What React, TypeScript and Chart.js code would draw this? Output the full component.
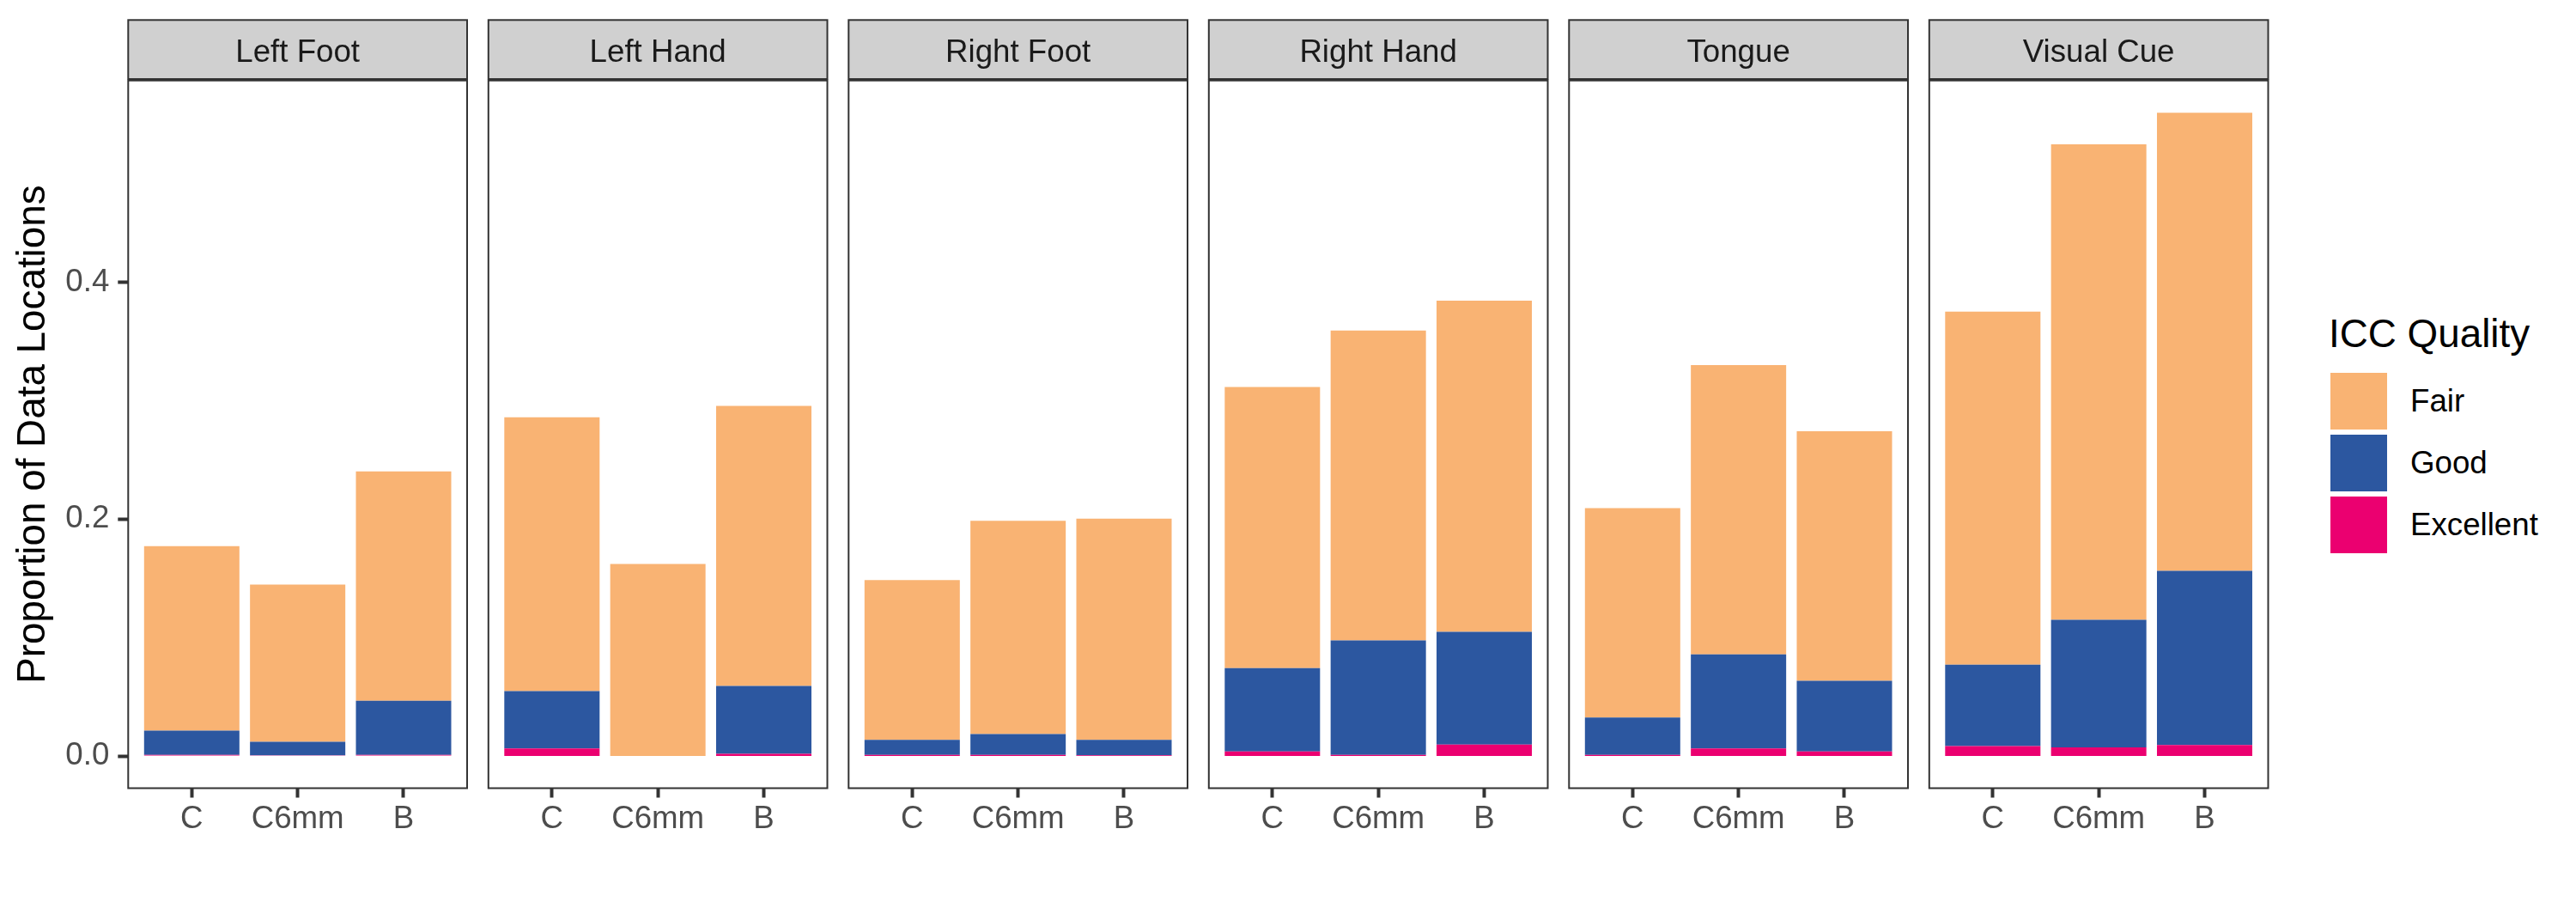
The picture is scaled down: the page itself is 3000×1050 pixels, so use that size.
import React, { useEffect, useRef } from "react";
import { Chart, registerables } from "chart.js";

Chart.register(...registerables);

// ---------------- data ----------------
const PANELS = ["Left Foot", "Left Hand", "Right Foot", "Right Hand", "Tongue", "Visual Cue"];
const CATEGORIES = ["C", "C6mm", "B"];
const QUALITY_LEVELS = ["Fair", "Good", "Excellent"];

// segment heights (proportion of data locations) per panel, per category [C, C6mm, B]
const FAIR = [
  [0.1558, 0.1326, 0.1937],
  [0.2311, 0.1622, 0.2365],
  [0.135, 0.1801, 0.1869],
  [0.2374, 0.2617, 0.2797],
  [0.1768, 0.2443, 0.2107],
  [0.2981, 0.4015, 0.387],
];
const GOOD = [
  [0.0204, 0.0116, 0.0456],
  [0.0486, 0.0, 0.0573],
  [0.0126, 0.0175, 0.0131],
  [0.0704, 0.0966, 0.0952],
  [0.0315, 0.0796, 0.0597],
  [0.0689, 0.1078, 0.1471],
];
const EXCELLENT = [
  [0.001, 0.0005, 0.001],
  [0.0063, 0.0, 0.0019],
  [0.001, 0.001, 0.0005],
  [0.0039, 0.001, 0.0097],
  [0.001, 0.0063, 0.0039],
  [0.0083, 0.0073, 0.0092],
];

const Y_TICKS = [0, 0.2, 0.4];
const Y_TICK_LABELS = ["0.0", "0.2", "0.4"];
const Y_TITLE = "Proportion of Data Locations";
const LEGEND_TITLE = "ICC Quality";

// ---------------- styles ----------------
const COLORS: Record<string, string> = {
  Fair: "#F9B373",
  Good: "#2C57A0",
  Excellent: "#EB0070",
};
const FONT = '"Liberation Sans", Arial, Helvetica, sans-serif';
const AXIS_TEXT_SIZE = 36.7;
const TITLE_SIZE = 45.8;

const PANEL_LEFT0 = 149.3;
const PANEL_PITCH = 419.5;
const PANEL_W = 394.7;
const PANEL_TOP = 93.7;
const PANEL_BOTTOM = 917.5;
const STRIP_TOP = 23.3;
const STRIP_BOTTOM = 92;
const STRIP_TEXT_Y = 61.5;
const CANVAS_H = 1050;
const X_AXIS_H = 80;

const panelDecor = {
  id: "panelDecor",
  afterDraw(chart: any, _args: any, opts: any) {
    const { ctx, chartArea } = chart;
    const { left, right, top, bottom } = chartArea;
    ctx.save();
    ctx.fillStyle = "#D0D0D0";
    ctx.fillRect(left, STRIP_TOP, right - left, STRIP_BOTTOM - STRIP_TOP);
    ctx.strokeStyle = "#333333";
    ctx.lineWidth = 2;
    ctx.strokeRect(left, STRIP_TOP, right - left, STRIP_BOTTOM - STRIP_TOP);
    ctx.fillStyle = "#1A1A1A";
    ctx.font = `${AXIS_TEXT_SIZE}px ${FONT}`;
    ctx.textAlign = "center";
    ctx.textBaseline = "middle";
    ctx.fillText(opts.title, (left + right) / 2, STRIP_TEXT_Y);
    ctx.strokeRect(left, top, right - left, bottom - top);
    ctx.restore();
  },
};

function Panel({ index }: { index: number }) {
  const ref = useRef<HTMLCanvasElement>(null);
  const first = index === 0;
  const L = PANEL_LEFT0 + index * PANEL_PITCH;
  const canvasLeft = first ? 0 : Math.floor(L - 12);
  const canvasRight = Math.ceil(L + PANEL_W + 12);
  const width = canvasRight - canvasLeft;
  const padLeft = first ? 0 : L - canvasLeft;
  const padRight = canvasRight - (L + PANEL_W);

  useEffect(() => {
    if (!ref.current) return;
    let maxTotal = 0;
    for (let p = 0; p < PANELS.length; p++) {
      for (let j = 0; j < CATEGORIES.length; j++) {
        maxTotal = Math.max(maxTotal, FAIR[p][j] + GOOD[p][j] + EXCELLENT[p][j]);
      }
    }
    const yMin = -0.05 * maxTotal;
    const yMax = 1.05 * maxTotal;
    const series: Record<string, number[][]> = { Fair: FAIR, Good: GOOD, Excellent: EXCELLENT };
    const stackOrder = [...QUALITY_LEVELS].reverse();
    const datasets = stackOrder.map((q) => ({
      label: q,
      data: CATEGORIES.map((_, j) => ({ x: j + 1, y: series[q][index][j] })),
      backgroundColor: COLORS[q],
      borderWidth: 0,
      barPercentage: 0.9,
      categoryPercentage: 1.0,
    }));

    const chart = new Chart(ref.current, {
      type: "bar",
      data: { datasets } as any,
      plugins: [panelDecor],
      options: {
        animation: false,
        responsive: false,
        devicePixelRatio: 1,
        events: [],
        layout: {
          padding: {
            top: PANEL_TOP,
            left: padLeft,
            right: padRight,
            bottom: CANVAS_H - PANEL_BOTTOM - X_AXIS_H,
          },
        },
        plugins: {
          legend: { display: false },
          tooltip: { enabled: false },
          title: { display: false },
          panelDecor: { title: PANELS[index] },
        } as any,
        scales: {
          x: {
            type: "linear",
            min: 0.4,
            max: 3.6,
            bounds: "data",
            stacked: true,
            offset: false,
            border: { display: false },
            grid: {
              display: true,
              offset: false,
              drawOnChartArea: false,
              drawTicks: true,
              tickLength: 11,
              tickWidth: 4,
              tickColor: "#333333",
              color: "#333333",
            },
            afterBuildTicks: (scale: any) => {
              scale.ticks = CATEGORIES.map((_, j) => ({ value: j + 1 }));
            },
            afterFit: (scale: any) => {
              scale.height = X_AXIS_H;
            },
            ticks: {
              autoSkip: false,
              maxRotation: 0,
              minRotation: 0,
              padding: 3,
              color: "#4D4D4D",
              font: { family: FONT, size: AXIS_TEXT_SIZE },
              callback: (v: any) => CATEGORIES[Math.round(Number(v)) - 1] ?? "",
            },
          },
          y: {
            display: first,
            min: yMin,
            max: yMax,
            bounds: "data",
            stacked: true,
            border: { display: false },
            grid: {
              display: true,
              drawOnChartArea: false,
              drawTicks: true,
              tickLength: 12,
              tickWidth: 4,
              tickColor: "#333333",
              color: "#333333",
            },
            afterBuildTicks: (scale: any) => {
              scale.ticks = Y_TICKS.map((v) => ({ value: v }));
            },
            afterFit: (scale: any) => {
              scale.width = first ? PANEL_LEFT0 : 0;
            },
            ticks: {
              padding: 10,
              color: "#4D4D4D",
              font: { family: FONT, size: AXIS_TEXT_SIZE },
              callback: (v: any) => {
                const k = Y_TICKS.findIndex((t) => Math.abs(t - Number(v)) < 1e-9);
                return k >= 0 ? Y_TICK_LABELS[k] : "";
              },
            },
            title: {
              display: first,
              text: Y_TITLE,
              color: "#000000",
              font: { family: FONT, size: TITLE_SIZE },
              padding: { top: 11.5, bottom: 0 },
            },
          },
        },
      } as any,
    });
    return () => chart.destroy();
  }, []);

  return (
    <canvas
      ref={ref}
      width={width}
      height={CANVAS_H}
      style={{ position: "absolute", left: canvasLeft, top: 0, width, height: CANVAS_H }}
    />
  );
}

export default function App() {
  return (
    <div
      style={{
        position: "absolute",
        left: 0,
        top: 0,
        width: 3000,
        height: 1050,
        background: "#FFFFFF",
        overflow: "hidden",
      }}
    >
      {PANELS.map((_, i) => (
        <Panel key={i} index={i} />
      ))}
      <div
        style={{
          position: "absolute",
          left: 2712,
          top: 365.7,
          fontFamily: FONT,
          fontSize: TITLE_SIZE,
          lineHeight: `${TITLE_SIZE}px`,
          color: "#000000",
          whiteSpace: "nowrap",
        }}
      >
        {LEGEND_TITLE}
      </div>
      {QUALITY_LEVELS.map((q, i) => (
        <React.Fragment key={q}>
          <div
            style={{
              position: "absolute",
              left: 2714,
              top: 434 + 72 * i,
              width: 66,
              height: 66,
              background: COLORS[q],
            }}
          />
          <div
            style={{
              position: "absolute",
              left: 2807,
              top: 434 + 72 * i,
              height: 66,
              lineHeight: "66px",
              fontFamily: FONT,
              fontSize: AXIS_TEXT_SIZE,
              color: "#000000",
              whiteSpace: "nowrap",
            }}
          >
            {q}
          </div>
        </React.Fragment>
      ))}
    </div>
  );
}
